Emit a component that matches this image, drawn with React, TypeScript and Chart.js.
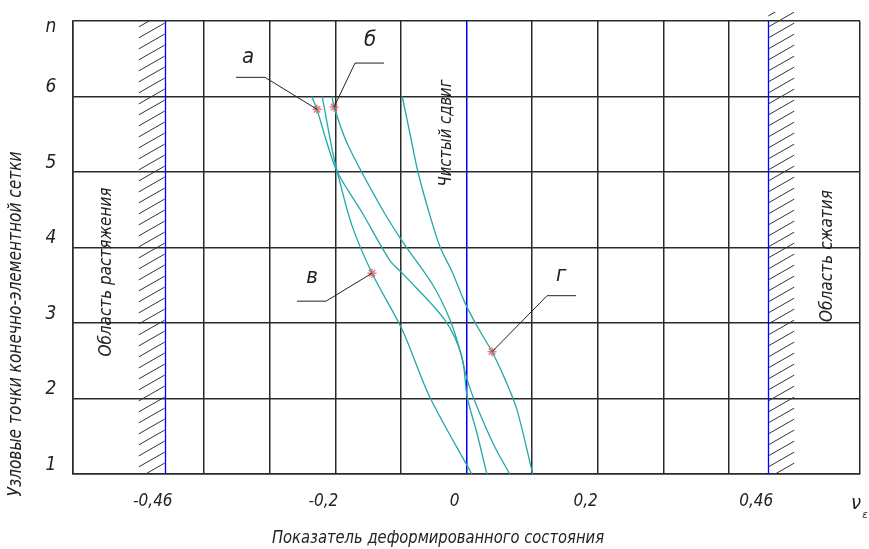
import React, { useEffect, useRef } from 'react';
import { Chart, registerables } from 'chart.js';
Chart.register(...registerables);

// ---------- data ----------
const nodeValues = [1, 2, 3, 4, 5, 6, 7];
const nodeLabels = ['1', '2', '3', '4', '5', '6', 'n'];
const xTickValues = [-0.46, -0.2, 0, 0.2, 0.46];
const xTickLabels = ['-0,46', '-0,2', '0', '0,2', '0,46'];
const boundaryValues = [-0.46, 0.46];
const hatchOuterValues = [-0.5, 0.5];
const hiddenGridValues = [-0.5, 0.5];

const curveAX = [-0.236, -0.228, -0.214, -0.197, -0.159, -0.117, -0.098, -0.033, -0.007, 0.001, 0.016, 0.031];
const curveAY = [6.0, 5.83, 5.42, 5.0, 4.46, 3.83, 3.66, 3.04, 2.55, 2.02, 1.54, 1.0];

const curveBX = [-0.205, -0.202, -0.181, -0.132, -0.097, -0.051, -0.025, -0.010, 0.001, 0.016, 0.043, 0.066];
const curveBY = [6.0, 5.86, 5.36, 4.56, 4.07, 3.50, 3.04, 2.64, 2.25, 1.89, 1.36, 1.0];

const curveVX = [-0.220, -0.204, -0.197, -0.175, -0.144, -0.098, -0.056, 0.008];
const curveVY = [6.0, 5.26, 5.0, 4.30, 3.66, 2.91, 2.02, 1.0];

const curveGX = [-0.098, -0.086, -0.074, -0.056, -0.040, -0.022, -0.002, 0.018, 0.039, 0.059, 0.077, 0.101];
const curveGY = [6.0, 5.50, 5.0, 4.43, 4.0, 3.68, 3.26, 2.93, 2.62, 2.25, 1.85, 1.0];

const markerLabels = ['а', 'б', 'в', 'г'];
const markerX = [-0.228, -0.202, -0.144, 0.039];
const markerY = [5.83, 5.86, 3.66, 2.62];

const yTitle = 'Узловые точки конечно-элементной сетки';
const xTitle = 'Показатель деформированного состояния';
const leftRegion = 'Область растяжения';
const rightRegion = 'Область сжатия';
const centerText = 'Чистый сдвиг';

// ---------- layout / style ----------
const FONT = '"Liberation Sans Narrow", "DejaVu Sans Condensed", "Liberation Sans", sans-serif';
const TEAL = '#22a8a8';
const INK = '#222222';
const GRID = '#2a2a2a';
// leader offsets (px) from marker: diagonal end, horizontal end, label center
const leaderOffsets = [
  [[-52, -32], [-81, -32], [-69, -52]],
  [[21, -44], [50, -44], [36, -67]],
  [[-46, 28], [-75, 28], [-60, 4]],
  [[55, -56], [84, -56], [69, -76]],
];

function fitText(ctx: CanvasRenderingContext2D, text: string, cx: number, cy: number, font: string, target: number, rotate = false) {
  ctx.save();
  ctx.font = font;
  (ctx as any).letterSpacing = '0px';
  const w = ctx.measureText(text).width;
  const n = Array.from(text).length;
  let sx = 1;
  if (target > w && n > 1) {
    (ctx as any).letterSpacing = ((target - w) / (n - 1)).toFixed(2) + 'px';
  } else if (target < w) {
    sx = target / w;
  }
  ctx.translate(cx, cy);
  if (rotate) ctx.rotate(-Math.PI / 2);
  ctx.scale(sx, 1);
  ctx.fillStyle = INK;
  ctx.textAlign = 'left';
  ctx.textBaseline = 'middle';
  const w2 = ctx.measureText(text).width;
  ctx.fillText(text, -w2 / 2, 0);
  ctx.restore();
}

function hatch(ctx: CanvasRenderingContext2D, x0: number, x1: number, y0: number, y1: number) {
  const step = 11, rise = 15;
  ctx.save();
  ctx.beginPath();
  ctx.rect(x0, y0, x1 - x0, y1 - y0);
  ctx.clip();
  ctx.strokeStyle = '#333';
  ctx.lineWidth = 1;
  ctx.beginPath();
  for (let yy = y1 + rise; yy > y0 - rise; yy -= step) {
    ctx.moveTo(x0, yy);
    ctx.lineTo(x1, yy - rise);
  }
  ctx.stroke();
  ctx.restore();
}

const overlay = {
  id: 'overlay',
  beforeDatasetsDraw(chart: any) {
    const { ctx, chartArea, scales } = chart;
    const { top, bottom } = chartArea;
    const x = scales.x;
    hatch(ctx, x.getPixelForValue(hatchOuterValues[0]), x.getPixelForValue(boundaryValues[0]), top, bottom);
    hatch(ctx, x.getPixelForValue(boundaryValues[1]), x.getPixelForValue(hatchOuterValues[1]), top - 9, bottom);
    ctx.save();
    ctx.strokeStyle = '#0000ff';
    ctx.lineWidth = 1.3;
    boundaryValues.forEach((v) => {
      const px = Math.round(x.getPixelForValue(v)) + 0.5;
      ctx.beginPath();
      ctx.moveTo(px, top);
      ctx.lineTo(px, bottom);
      ctx.stroke();
    });
    ctx.restore();
  },
  afterDraw(chart: any) {
    const { ctx, chartArea, scales } = chart;
    const { left, right, bottom } = chartArea;
    const x = scales.x, y = scales.y;
    // leaders & marker labels
    ctx.save();
    ctx.strokeStyle = INK;
    ctx.lineWidth = 1;
    markerX.forEach((mv, i) => {
      const mx = x.getPixelForValue(mv), my = y.getPixelForValue(markerY[i]);
      const [d, h, l] = leaderOffsets[i];
      ctx.beginPath();
      ctx.moveTo(mx, my);
      ctx.lineTo(mx + d[0], my + d[1]);
      ctx.lineTo(mx + h[0], my + h[1]);
      ctx.stroke();
      ctx.font = 'italic 22px ' + FONT;
      ctx.fillStyle = INK;
      ctx.textAlign = 'center';
      ctx.textBaseline = 'middle';
      ctx.fillText(markerLabels[i], mx + l[0], my + l[1]);
    });
    ctx.restore();

    // y tick labels
    ctx.save();
    ctx.font = 'italic 19px ' + FONT;
    ctx.fillStyle = INK;
    ctx.textAlign = 'center';
    ctx.textBaseline = 'middle';
    nodeValues.forEach((v, i) => {
      const py = y.getPixelForValue(v);
      const off = v === nodeValues[nodeValues.length - 1] ? 6 : -9;
      ctx.fillText(nodeLabels[i], left - 22, py + off);
    });
    // x tick labels
    ctx.font = 'italic 17px ' + FONT;
    xTickValues.forEach((v, i) => {
      ctx.fillText(xTickLabels[i], x.getPixelForValue(v) - 12, bottom + 28);
    });
    // nu_eps
    ctx.font = 'italic 20px ' + FONT;
    ctx.fillText('ν', right - 4, bottom + 30);
    ctx.font = 'italic 11px ' + FONT;
    ctx.fillText('ε', right + 5, bottom + 41);
    ctx.restore();

    // titles and region texts
    fitText(ctx, xTitle, 438, bottom + 64, 'italic 18px ' + FONT, 332);
    fitText(ctx, yTitle, left - 57, 324, 'italic 19px ' + FONT, 345, true);
    fitText(ctx, leftRegion, x.getPixelForValue(-0.46) - 58, 272, 'italic 17px ' + FONT, 169, true);
    fitText(ctx, centerText, x.getPixelForValue(0) - 20, 133, 'italic 17px ' + FONT, 107, true);
    fitText(ctx, rightRegion, x.getPixelForValue(0.46) + 59, 256, 'italic 17px ' + FONT, 132, true);
  },
};

function toPts(xs: number[], ys: number[]) {
  return xs.map((v, i) => ({ x: v, y: ys[i] }));
}

export default function App() {
  const ref = useRef<HTMLCanvasElement | null>(null);
  useEffect(() => {
    if (!ref.current) return;
    const line = (label: string, xs: number[], ys: number[]) => ({
      label,
      data: toPts(xs, ys),
      borderColor: TEAL,
      borderWidth: 1.3,
      pointRadius: 0,
      tension: 0.3,
      fill: false,
    });
    const near = (a: number, b: number) => Math.abs(a - b) < 1e-6;
    const chart = new Chart(ref.current, {
      type: 'line',
      data: {
        datasets: [
          line('а', curveAX, curveAY),
          line('б', curveBX, curveBY),
          line('в', curveVX, curveVY),
          line('г', curveGX, curveGY),
          {
            label: 'markers',
            data: toPts(markerX, markerY),
            showLine: false,
            pointStyle: 'star',
            pointRadius: 4.5,
            borderColor: 'rgba(255,70,70,0.75)',
            backgroundColor: 'rgba(255,70,70,0.4)',
            borderWidth: 1.5,
          } as any,
        ],
      },
      options: {
        animation: false,
        responsive: false,
        maintainAspectRatio: false,
        layout: { padding: { left: 73, top: 21, right: 9, bottom: 75 } },
        plugins: { legend: { display: false }, tooltip: { enabled: false } },
        scales: {
          x: {
            type: 'linear',
            min: -0.6,
            max: 0.6,
            ticks: { display: false, stepSize: 0.1 },
            grid: {
              drawTicks: false,
              lineWidth: 1.5,
              color: (c: any) => {
                const v = c.tick ? c.tick.value : NaN;
                if (hiddenGridValues.some((h) => near(h, v))) return 'rgba(0,0,0,0)';
                if (near(v, 0)) return '#0000ff';
                return GRID;
              },
            },
            border: { color: GRID, width: 1.5 },
          },
          y: {
            type: 'linear',
            min: 1,
            max: 7,
            ticks: { display: false, stepSize: 1 },
            grid: { drawTicks: false, lineWidth: 1.5, color: GRID },
            border: { color: GRID, width: 1.5 },
          },
        },
      },
      plugins: [overlay],
    });
    return () => chart.destroy();
  }, []);
  return (
    <div style={{ position: 'absolute', left: 0, top: 0, width: 869, height: 549, background: '#fff' }}>
      <canvas ref={ref} width={869} height={549} style={{ width: 869, height: 549, display: 'block' }} />
    </div>
  );
}
